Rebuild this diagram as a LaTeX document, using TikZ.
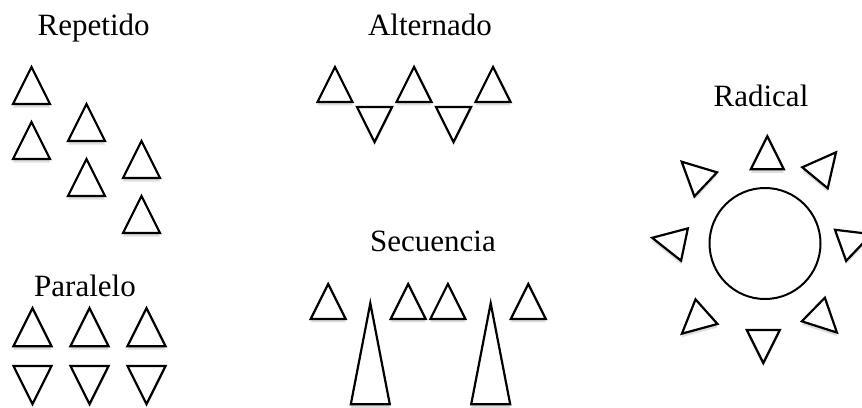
\documentclass[tikz,border=0pt]{standalone}
\usepackage{fontspec}
\setmainfont{Liberation Serif}
\tikzset{
  tri/.style={line width=2.2pt, fill=white},
  trishade/.style={fill=black!13},
  title/.style={font=\fontsize{31}{36}\selectfont, anchor=base, inner sep=0pt}
}
% triangle: centroid x, centroid y, rotation, base, height
\newcommand{\triang}[5]{%
  \fill[trishade, shift={(#1,#2+3.5)}, rotate=#3] (0,-2*#5/3) -- (#4/2,#5/3) -- (-#4/2,#5/3) -- cycle;
  \draw[tri, shift={(#1,#2)}, rotate=#3] (0,-2*#5/3) -- (#4/2,#5/3) -- (-#4/2,#5/3) -- cycle;
}

\begin{document}
\begin{tikzpicture}[x=1pt, y=-1pt, line cap=round]
\useasboundingbox (0,0) rectangle (862,407);
\clip (0,0) rectangle (862,407);

\node[title] (repetido) at (93.7,35) {Repetido};
\node[title] (alternado) at (430,35) {Alternado};
\node[title] (radical) at (761,106.7) {Radical};
\node[title] (secuencia) at (433,251) {Secuencia};
\node[title] (paralelo) at (85,296.7) {Paralelo};

% repetido
\foreach \i in {0,1,2} {
  \triang{31.5+55*\i}{91.7+37*\i}{0}{37}{37}
  \triang{31.5+55*\i}{146.7+37*\i}{0}{37}{37}
}

% alternado
\triang{335}{90.3}{0}{35}{35}
\triang{374.5}{118.7}{180}{35}{35}
\triang{414}{90.3}{0}{35}{35}
\triang{453.5}{118.7}{180}{35}{35}
\triang{493}{90.3}{0}{35}{35}

% secuencia
\triang{328.2}{307.3}{0}{35}{35}
\triang{370.3}{370.6}{0}{39}{101}
\triang{408.2}{307.3}{0}{35}{35}
\triang{447.9}{307.3}{0}{35}{35}
\triang{490.7}{370.6}{0}{39}{101}
\triang{528.3}{307.3}{0}{35}{35}

% paralelo
\foreach \i in {0,1,2} {
  \triang{32.5+57*\i}{333.5}{0}{38}{38}
  \triang{32.5+57*\i}{378.7}{180}{38}{38}
}

% radical
\draw[line width=2pt, fill=white] (765,243.5) circle (55.5);
\triang{767.3}{158.3}{0}{33}{33}
\triang{822}{169.3}{-39.5}{33}{33}
\triang{697.7}{176.8}{46.7}{33}{33}
\triang{673.7}{242.3}{78.2}{33}{33}
\triang{850.9}{241.6}{-70.3}{33}{33}
\triang{698.3}{319}{131.8}{33}{33}
\triang{763.3}{341}{180}{33}{33}
\triang{821.2}{317.2}{-134.3}{33}{33}

\end{tikzpicture}
\end{document}
